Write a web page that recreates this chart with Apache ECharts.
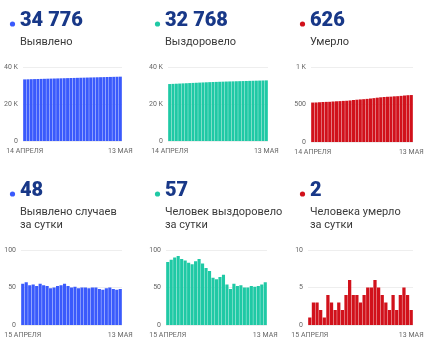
<!DOCTYPE html>
<html><head><meta charset="utf-8">
<script src="https://cdn.jsdelivr.net/npm/echarts@6/dist/echarts.min.js"></script>
<style>html,body{margin:0;padding:0;background:#fff}#c{width:430px;height:344px}</style>
</head><body><div id="c"></div>
<script>
const datesTop = ['14 АПРЕЛЯ','15 апреля','16 апреля','17 апреля','18 апреля','19 апреля','20 апреля','21 апреля','22 апреля','23 апреля','24 апреля','25 апреля','26 апреля','27 апреля','28 апреля','29 апреля','30 апреля','1 мая','2 мая','3 мая','4 мая','5 мая','6 мая','7 мая','8 мая','9 мая','10 мая','11 мая','12 мая','13 МАЯ'];
const datesBottom = ['15 АПРЕЛЯ','16 апреля','17 апреля','18 апреля','19 апреля','20 апреля','21 апреля','22 апреля','23 апреля','24 апреля','25 апреля','26 апреля','27 апреля','28 апреля','29 апреля','30 апреля','1 мая','2 мая','3 мая','4 мая','5 мая','6 мая','7 мая','8 мая','9 мая','10 мая','11 мая','12 мая','13 МАЯ'];

const casesTotal = [33298,33353,33410,33463,33517,33569,33624,33677,33729,33778,33828,33880,33933,33988,34040,34090,34141,34190,34240,34290,34339,34389,34439,34487,34534,34583,34633,34681,34728,34776];
const recoveredTotal = [30791,30875,30962,31052,31144,31232,31318,31401,31482,31567,31655,31737,31813,31885,31948,32009,32073,32140,32194,32242,32297,32349,32402,32452,32502,32554,32605,32657,32711,32768];
const deathsTotal = [526,527,530,533,535,536,540,543,545,548,550,554,560,564,568,571,575,580,585,591,596,600,603,605,609,611,615,620,624,626];

const casesDaily = [55,57,53,54,52,55,53,52,49,50,52,53,55,52,50,51,49,50,50,49,50,50,48,47,49,50,48,47,48];
const recoveredDaily = [84,87,90,92,88,86,83,81,85,88,82,76,72,63,61,64,67,54,48,55,52,53,50,50,52,51,52,54,57];
const deathsDaily = [1,3,3,2,1,4,3,2,3,2,4,6,4,4,3,4,5,5,6,5,4,3,2,4,2,4,5,4,2];

const headlines = ['34 776','32 768','626','48','57','2'];
const captions = [['Выявлено'],['Выздоровело'],['Умерло'],['Выявлено случаев','за сутки'],['Человек выздоровело','за сутки'],['Человека умерло','за сутки']];
const yTicksTop = {max:40000, interval:20000, fmt:{0:'0',20000:'20 K',40000:'40 K'}};
const yTicksDeaths = {max:1000, interval:500, fmt:{0:'0',500:'500',1000:'1 K'}};
const yTicksDaily = {max:100, interval:50, fmt:{0:'0',50:'50',100:'100'}};
const yTicksDeathsDaily = {max:10, interval:5, fmt:{0:'0',5:'5',10:'10'}};

const BLUE='#3a5afc', TEAL='#1fc9a5', RED='#d1111b', NAVY='#183888';

const panels = [
  {data:casesTotal, cats:datesTop, color:BLUE, ticks:yTicksTop, grid:{left:23,top:67,width:99,height:74}, tx:20, dx:12.5, row:0},
  {data:recoveredTotal, cats:datesTop, color:TEAL, ticks:yTicksTop, grid:{left:168,top:67,width:100,height:74}, tx:165, dx:157.5, row:0},
  {data:deathsTotal, cats:datesTop, color:RED, ticks:yTicksDeaths, grid:{left:311,top:67,width:102,height:75}, tx:310, dx:302.5, row:0},
  {data:casesDaily, cats:datesBottom, color:BLUE, ticks:yTicksDaily, grid:{left:21,top:250,width:101,height:75}, tx:20, dx:12.5, row:1},
  {data:recoveredDaily, cats:datesBottom, color:TEAL, ticks:yTicksDaily, grid:{left:166,top:250,width:101,height:75}, tx:165, dx:157.5, row:1},
  {data:deathsDaily, cats:datesBottom, color:RED, ticks:yTicksDeathsDaily, grid:{left:308,top:250,width:105,height:75}, tx:310, dx:302.5, row:1}
];

const FONT='Roboto';
const grid=[], xAxis=[], yAxis=[], series=[], graphic=[];
panels.forEach((p,i)=>{
  grid.push(Object.assign({containLabel:false}, p.grid));
  const n=p.cats.length;
  xAxis.push({type:'category', gridIndex:i, data:p.cats,
    axisLine:{show:false}, axisTick:{show:false},
    axisLabel:{interval:(idx)=>idx===0||idx===n-1, formatter:(v)=>v.toUpperCase(), fontFamily:FONT, fontSize:7, color:'#666', margin:7}});
  yAxis.push({type:'value', gridIndex:i, min:0, max:p.ticks.max, interval:p.ticks.interval,
    axisLine:{show:false}, axisTick:{show:false},
    splitLine:{lineStyle:{color:'#eeeeee', width:1}},
    axisLabel:{formatter:(v)=>p.ticks.fmt[v], fontFamily:FONT, fontSize:7, color:'#666', margin:5}});
  series.push({type:'bar', xAxisIndex:i, yAxisIndex:i, data:p.data, barCategoryGap:'10%',
    itemStyle:{color:p.color}, animation:false, silent:true});
  const ny = p.row===0 ? 21 : 191;
  graphic.push({type:'circle', shape:{cx:p.dx, cy:ny+3, r:2.6}, style:{fill:p.color}});
  graphic.push({type:'text', x:p.tx, y:ny, style:{text:headlines[i], fill:NAVY, font:'900 20px '+FONT, verticalAlign:'middle', align:'left'}});
  captions[i].forEach((line,k)=>{
    graphic.push({type:'text', x:p.tx, y:(p.row===0?42:212)+k*13, style:{text:line, fill:'#3a3a3a', font:'11px '+FONT, verticalAlign:'middle', align:'left'}});
  });
});

const chart = echarts.init(document.getElementById('c'), null, {renderer:'canvas'});
chart.setOption({animation:false, grid, xAxis, yAxis, series, graphic});
</script></body></html>
